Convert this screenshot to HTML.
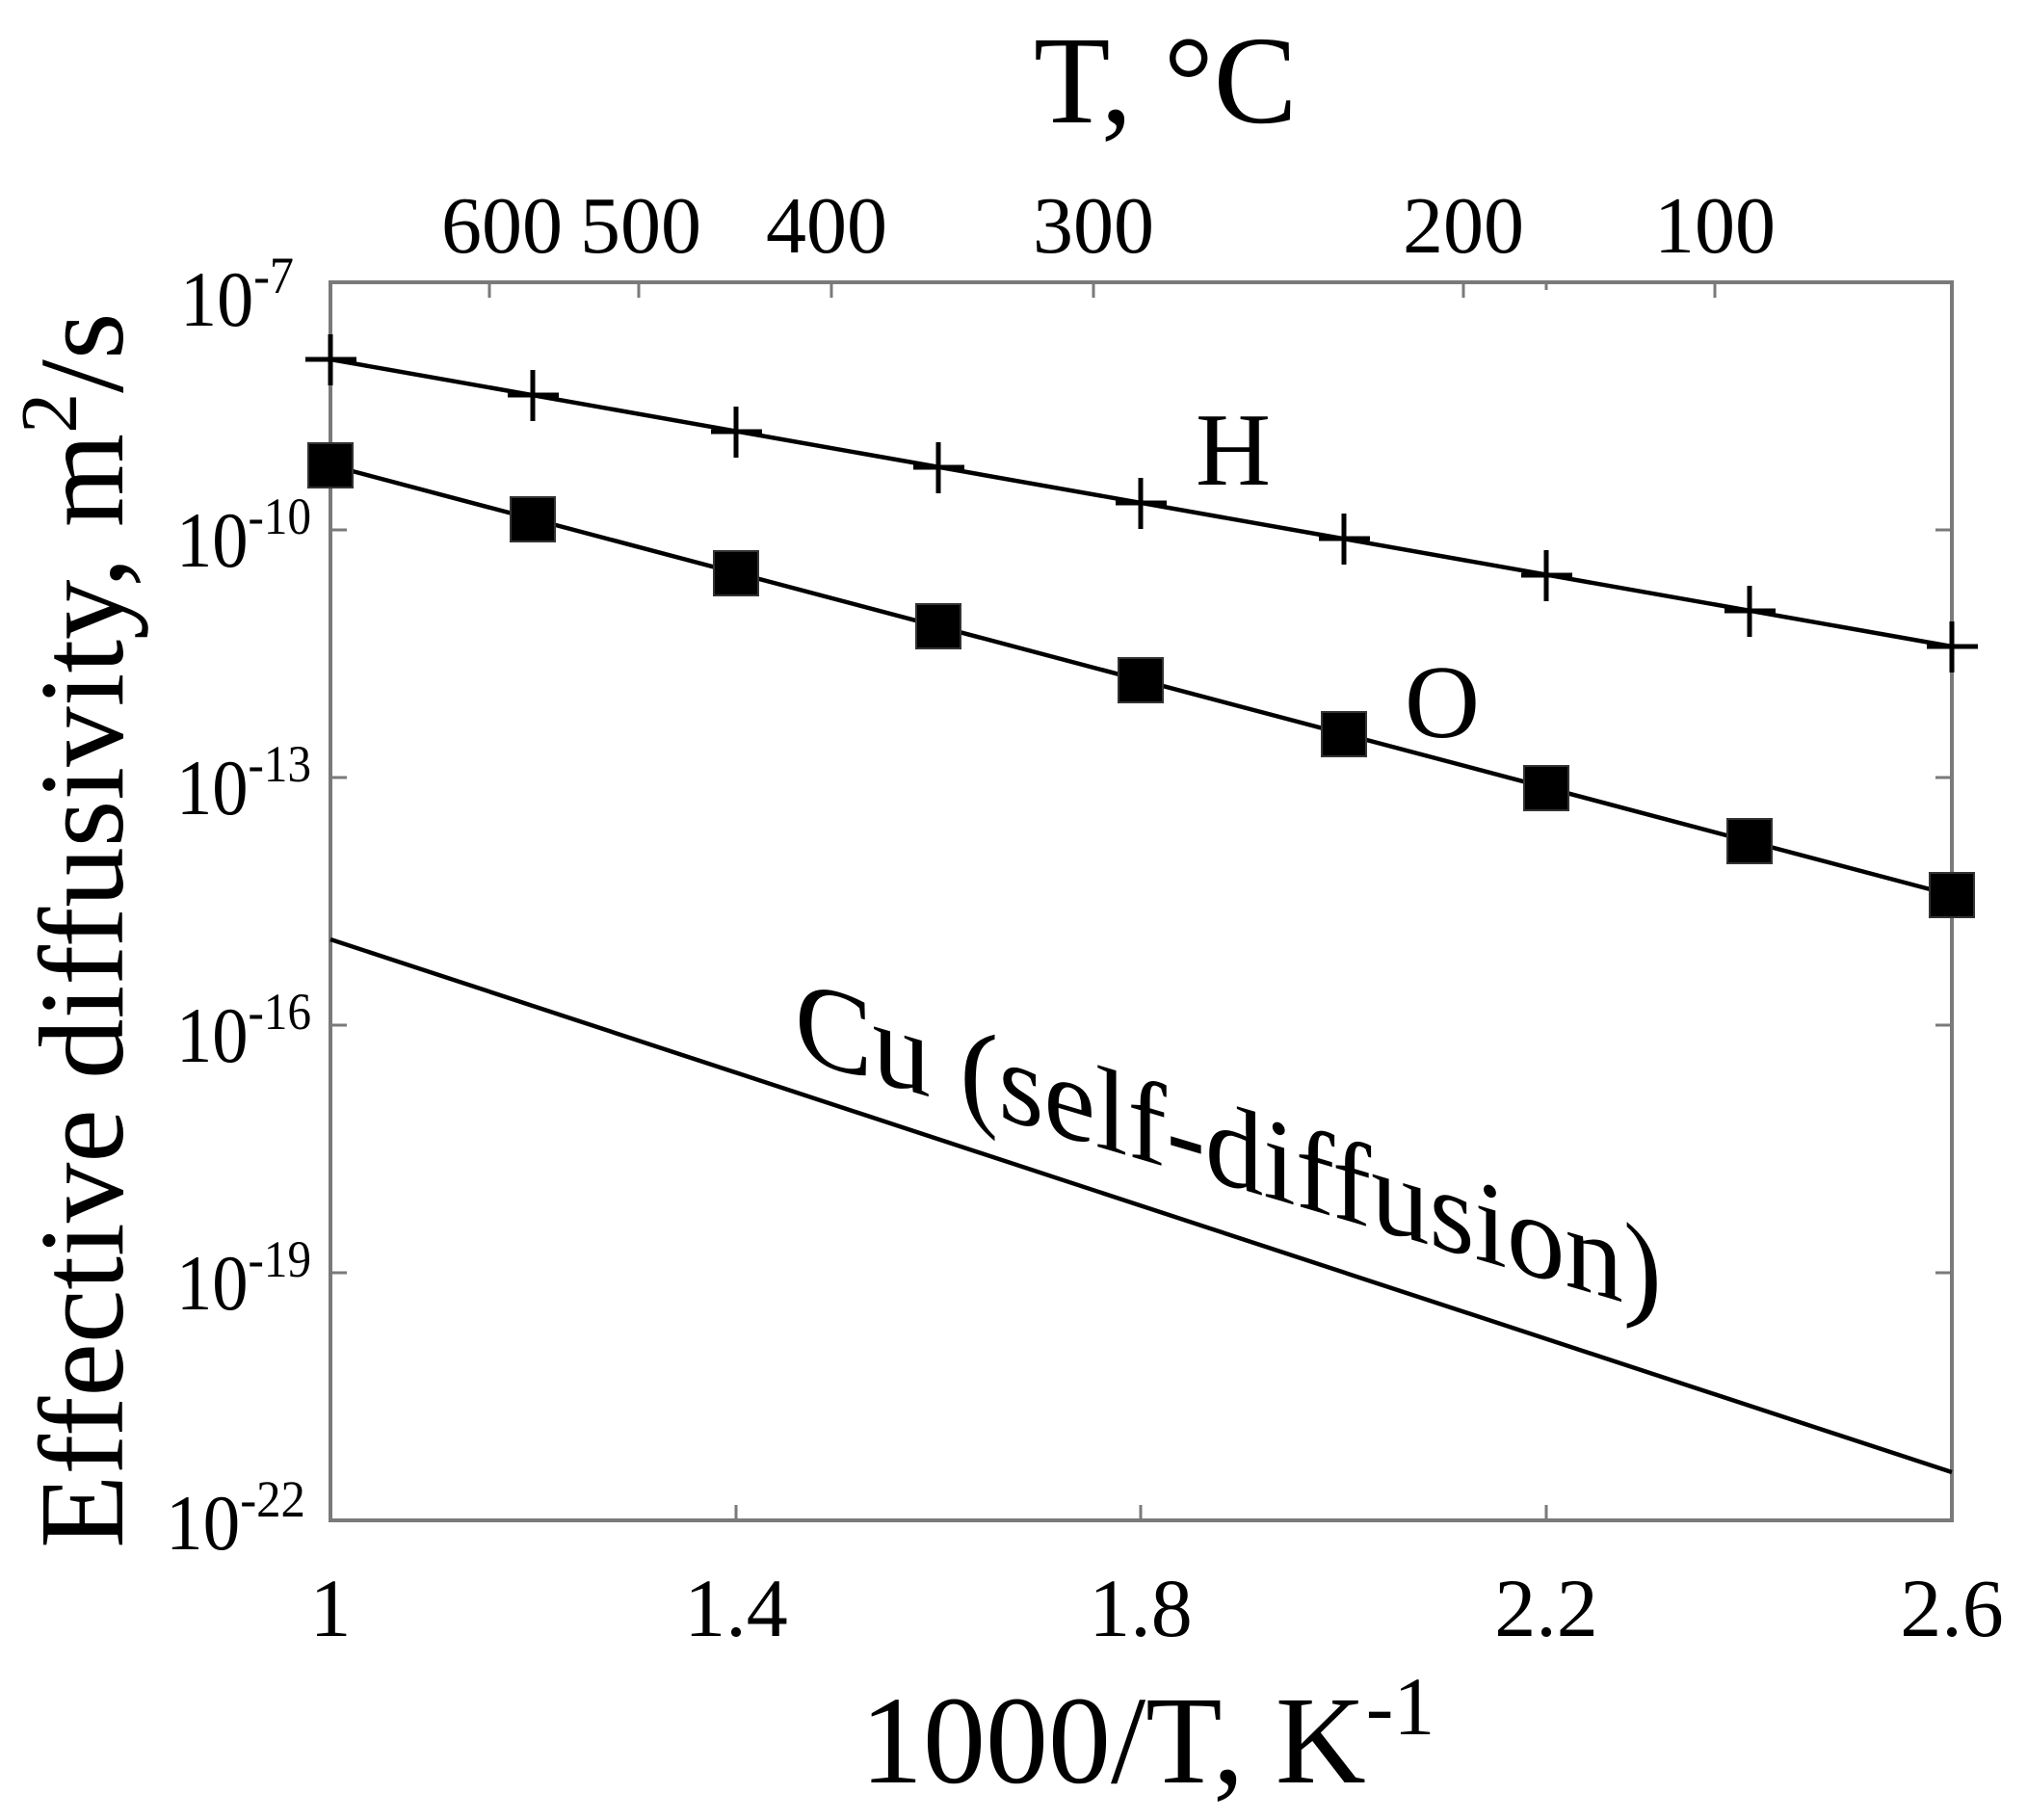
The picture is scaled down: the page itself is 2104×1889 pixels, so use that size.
<!DOCTYPE html>
<html><head><meta charset="utf-8"><style>html,body{margin:0;padding:0;background:#fff}svg{display:block}</style></head>
<body>
<svg width="2104" height="1889" viewBox="0 0 2104 1889" xmlns="http://www.w3.org/2000/svg" font-family="Liberation Serif, serif" fill="#000">
<rect x="0" y="0" width="2104" height="1889" fill="#fff"/>
<rect x="343" y="293" width="1683" height="1285" fill="none" stroke="#7a7a7a" stroke-width="4"/>
<g stroke="#7a7a7a" stroke-width="3">
<line x1="764" y1="1578" x2="764" y2="1562"/><line x1="1184" y1="1578" x2="1184" y2="1562"/><line x1="1605" y1="1578" x2="1605" y2="1562"/>
<line x1="508" y1="293" x2="508" y2="309"/><line x1="663" y1="293" x2="663" y2="309"/><line x1="863" y1="293" x2="863" y2="309"/><line x1="1135" y1="293" x2="1135" y2="309"/><line x1="1519" y1="293" x2="1519" y2="309"/><line x1="1605" y1="293" x2="1605" y2="301"/><line x1="1780" y1="293" x2="1780" y2="309"/>
<line x1="343" y1="550" x2="360" y2="550"/><line x1="343" y1="807" x2="360" y2="807"/><line x1="343" y1="1064" x2="360" y2="1064"/><line x1="343" y1="1321" x2="360" y2="1321"/>
<line x1="2026" y1="550" x2="2009" y2="550"/><line x1="2026" y1="807" x2="2009" y2="807"/><line x1="2026" y1="1064" x2="2009" y2="1064"/><line x1="2026" y1="1321" x2="2009" y2="1321"/>
</g>
<g stroke="#000" stroke-width="4.5" fill="none">
<line x1="343" y1="373" x2="2026" y2="671"/>
<line x1="343" y1="483" x2="2026" y2="929"/>
<line x1="343" y1="975" x2="2026" y2="1528"/>
</g>
<g stroke="#000" stroke-width="5">
<path d="M317 373h53M343 347v53"/>
<path d="M527 410h53M553 384v53"/>
<path d="M738 448h53M764 422v53"/>
<path d="M948 485h53M974 459v53"/>
<path d="M1158 522h53M1184 496v53"/>
<path d="M1369 559h53M1395 533v53"/>
<path d="M1579 597h53M1605 571v53"/>
<path d="M1790 634h53M1816 608v53"/>
<path d="M2000 671h53M2026 645v53"/>
</g>
<g fill="#000" stroke="#333" stroke-width="2">
<rect x="320" y="460" width="46" height="46"/>
<rect x="530" y="516" width="46" height="46"/>
<rect x="741" y="572" width="46" height="46"/>
<rect x="951" y="627" width="46" height="46"/>
<rect x="1161" y="683" width="46" height="46"/>
<rect x="1372" y="739" width="46" height="46"/>
<rect x="1582" y="795" width="46" height="46"/>
<rect x="1793" y="850" width="46" height="46"/>
<rect x="2003" y="906" width="46" height="46"/>
</g>
<g font-size="82">
<text x="187" y="338" textLength="118" lengthAdjust="spacingAndGlyphs">10<tspan font-size="54" dy="-34">-7</tspan></text>
<text x="183" y="588" textLength="140" lengthAdjust="spacingAndGlyphs">10<tspan font-size="54" dy="-34">-10</tspan></text>
<text x="183" y="845" textLength="140" lengthAdjust="spacingAndGlyphs">10<tspan font-size="54" dy="-34">-13</tspan></text>
<text x="183" y="1102" textLength="140" lengthAdjust="spacingAndGlyphs">10<tspan font-size="54" dy="-34">-16</tspan></text>
<text x="183" y="1359" textLength="140" lengthAdjust="spacingAndGlyphs">10<tspan font-size="54" dy="-34">-19</tspan></text>
<text x="172" y="1608" textLength="145" lengthAdjust="spacingAndGlyphs">10<tspan font-size="54" dy="-34">-22</tspan></text>
</g>
<g font-size="86" text-anchor="middle">
<text x="343" y="1698">1</text><text x="764" y="1698">1.4</text><text x="1184" y="1698">1.8</text><text x="1605" y="1698">2.2</text><text x="2026" y="1698">2.6</text>
</g>
<g font-size="84" text-anchor="middle">
<text x="521" y="262">600</text><text x="665" y="262">500</text><text x="858" y="262">400</text><text x="1135" y="262">300</text><text x="1519" y="262">200</text><text x="1780" y="262">100</text>
</g>
<text x="1073" y="127" font-size="130">T, °C</text>
<text x="893" y="1850" font-size="130">1000/T, K<tspan font-size="86" dy="-50">-1</tspan></text>
<text transform="translate(127,1607) rotate(-90)" font-size="125">Effective diffusivity, m<tspan font-size="84" dy="-48">2</tspan><tspan dy="48">/s</tspan></text>
<text x="1241" y="503" font-size="108">H</text>
<text x="1458" y="765" font-size="108">O</text>
<text transform="translate(825,1097) skewY(16.5)" font-size="122" textLength="900" lengthAdjust="spacingAndGlyphs">Cu (self-diffusion)</text>
</svg>
</body></html>
